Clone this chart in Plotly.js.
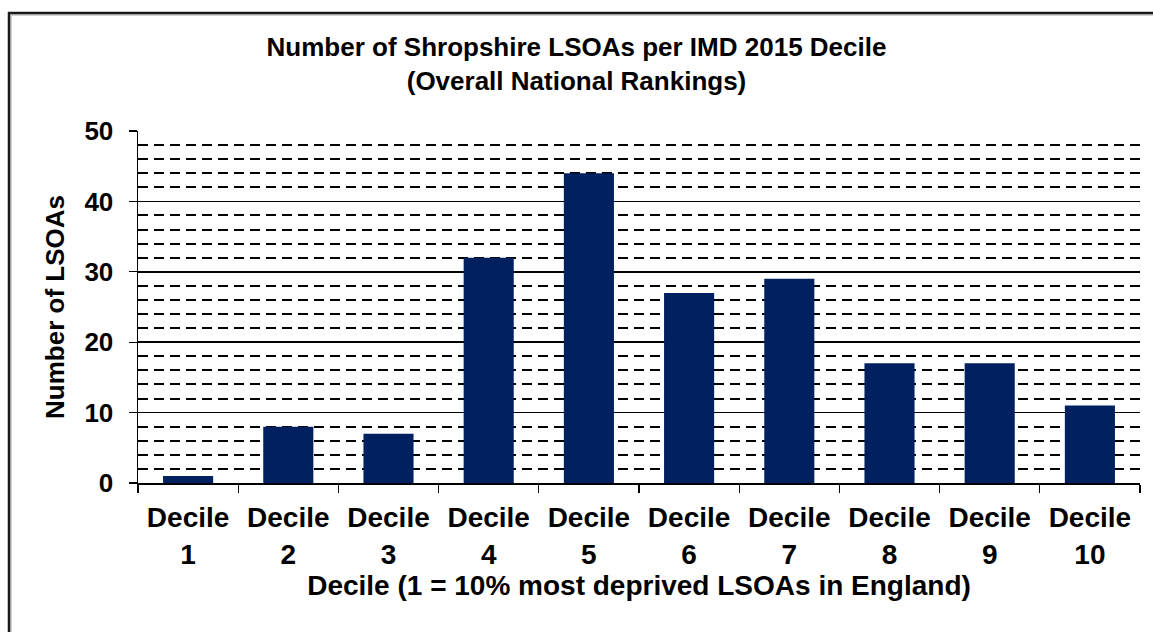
<!DOCTYPE html>
<html><head><meta charset="utf-8">
<script src="https://cdn.plot.ly/plotly-3.0.1.min.js"></script>
<style>html,body{margin:0;padding:0;background:#fff;overflow:hidden}#chart{width:1153px;height:632px}</style>
</head><body><div id="chart"></div>
<script>
const categories = ["Decile<br>1","Decile<br>2","Decile<br>3","Decile<br>4","Decile<br>5","Decile<br>6","Decile<br>7","Decile<br>8","Decile<br>9","Decile<br>10"];
const lsoaCounts = [1, 8, 7, 32, 44, 27, 29, 17, 17, 11];
const chartTitle = "Number of Shropshire LSOAs per IMD 2015 Decile<br>(Overall National Rankings)";
const xTitle = "Decile (1 = 10% most deprived LSOAs in England)";
const yTitle = "Number of LSOAs";

const W = 1153, H = 632;
const m = {l:138, r:13, t:131, b:149};
const pw = W - m.l - m.r, ph = H - m.t - m.b;
const px = x => (x - m.l) / pw;
const py = y => (H - m.b - y) / ph;
const fam = "Liberation Sans, Arial, sans-serif";

const trace = {
  type: 'bar', x: categories, y: lsoaCounts,
  marker: {color: '#002060', line: {width: 0}},
  width: 0.5, hoverinfo: 'none'
};
const layout = {
  width: W, height: H, margin: m,
  paper_bgcolor: '#fff', plot_bgcolor: '#fff',
  showlegend: false,
  title: {text: chartTitle, font: {family: fam, size: 26, weight: 'bold', color: '#000'},
          x: 0.5, xref: 'container', xanchor: 'center', y: 1 - 56/H, yref: 'container', yanchor: 'top'},
  xaxis: {
    type: 'category', tickson: 'boundaries', ticks: 'outside', ticklen: 8, tickwidth: 1.2, tickcolor: '#000',
    showline: true, linecolor: '#000', linewidth: 1.5, showgrid: false,
    tickfont: {family: fam, size: 28, weight: 'bold', color: '#000'},
    ticklabelstandoff: 9,
    title: {text: xTitle, font: {family: fam, size: 28, weight: 'bold', color: '#000'}, standoff: 7},
    fixedrange: true
  },
  yaxis: {
    range: [0, 50], dtick: 10, tick0: 0, ticks: 'outside', ticklen: 8, tickwidth: 1.2, tickcolor: '#000',
    showline: true, linecolor: '#000', linewidth: 1.5,
    showgrid: true, gridcolor: '#000', gridwidth: 1.5, zeroline: false,
    minor: {dtick: 2, tick0: 0, showgrid: true, gridcolor: '#000', gridwidth: 2, griddash: '10px,6px', ticks: ''},
    tickfont: {family: fam, size: 26, weight: 'bold', color: '#000'},
    ticklabelstandoff: 10,
    title: {text: yTitle, font: {family: fam, size: 26, weight: 'bold', color: '#000'}, standoff: 12},
    fixedrange: true
  },
  shapes: [
    {type:'line', xref:'paper', yref:'paper', x0: px(11), x1: px(11), y0: py(15), y1: py(700), line:{color:'#d0d0d0', width:2}},
    {type:'line', xref:'paper', yref:'paper', x0: px(11), x1: px(1200), y0: py(15), y1: py(15), line:{color:'#d0d0d0', width:2}},
    {type:'line', xref:'paper', yref:'paper', x0: px(9), x1: px(9), y0: py(12), y1: py(700), line:{color:'#1a1a1a', width:2.5}},
    {type:'line', xref:'paper', yref:'paper', x0: px(8), x1: px(1200), y0: py(13), y1: py(13), line:{color:'#1a1a1a', width:2.5}}
  ]
};
Plotly.newPlot('chart', [trace], layout, {displayModeBar: false, staticPlot: true});
</script>
</body></html>
